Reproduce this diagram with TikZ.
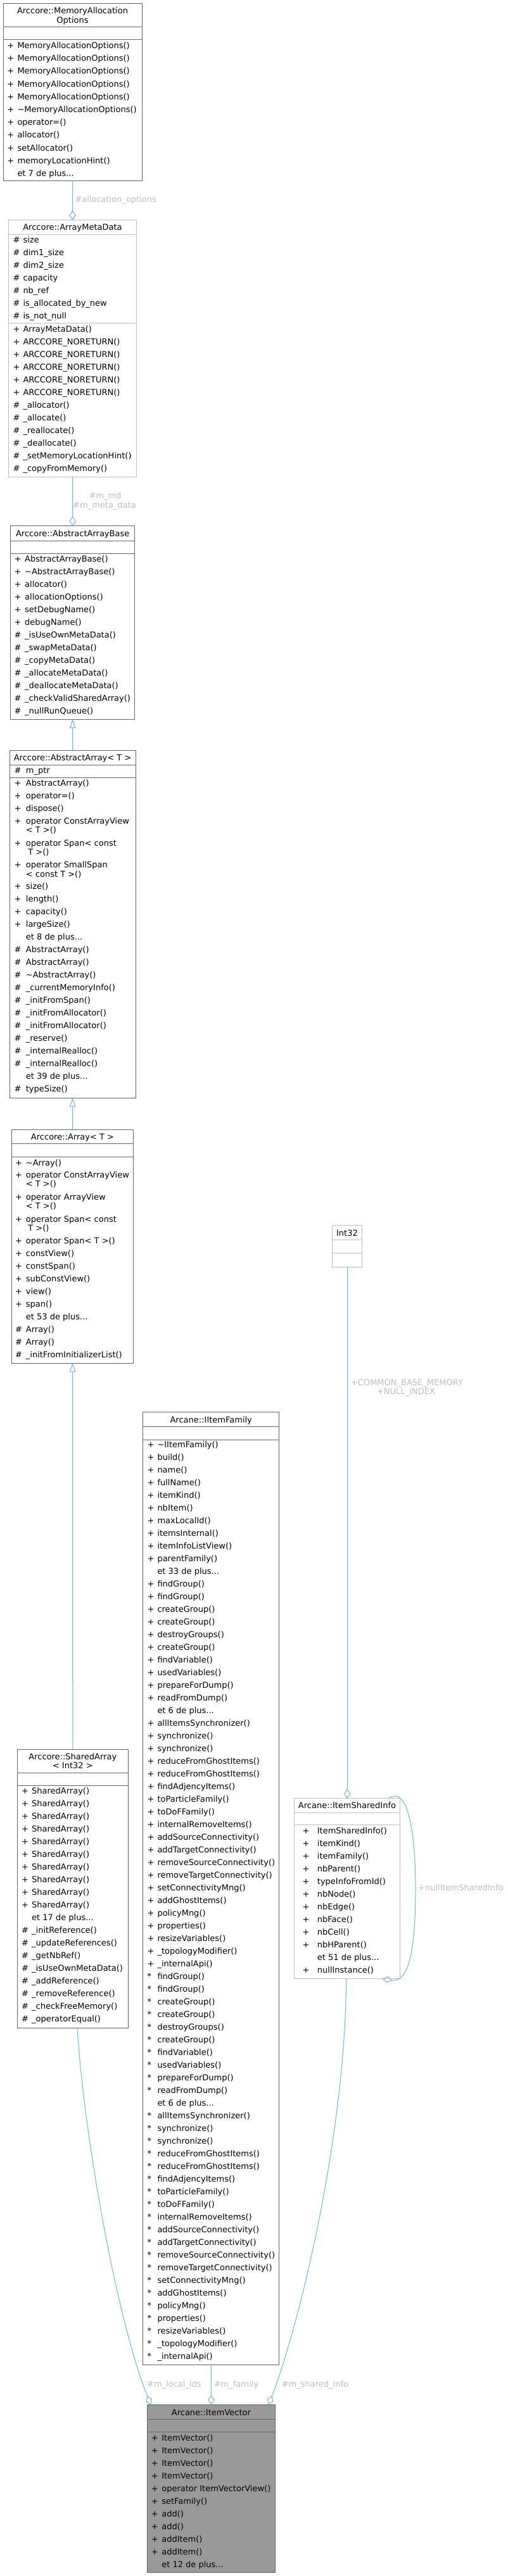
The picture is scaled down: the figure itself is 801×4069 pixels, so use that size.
\documentclass[tikz,border=0pt]{standalone}
\usepackage{fontspec}
\setmainfont{DejaVu Sans}
\usetikzlibrary{arrows.meta}
\definecolor{dgray}{HTML}{666666}
\definecolor{lgray}{HTML}{BFBFBF}
\definecolor{edgec}{HTML}{63B8FF}
\definecolor{lblc}{HTML}{BEBEBE}
\definecolor{focusc}{HTML}{999999}
\newcommand\dxf{\fontsize{13}{15}\selectfont}
% rows: prefix, xsym, xname, ybase, list, spacing
\newcommand\mrows[6]{%
  \foreach \ms/\mt [count=\mi from 0] in {#5} {
    \node[sym] (#1s\mi) at (#2, #4+#6*\mi) {\ms};
    \node[txt] (#1t\mi) at (#3, #4+#6*\mi) {\mt};
  }}
% single row: name, xsym, xname, ybase, sym, text
\newcommand\mrow[6]{\node[sym] (#1s) at (#2,#4) {#5}; \node[txt] (#1t) at (#3,#4) {#6};}
% box: name, style, x1, y1, x2, y2
\newcommand\umlbox[6]{\node[#2, anchor=north west, minimum width={#5-#3}, minimum height={#6-#4}] (#1) at (#3,#4) {};}
% separator: colour, x1, x2, y
\newcommand\sepline[4]{\draw[#1, line width=1pt] (#2,#4) -- (#3,#4);}
\begin{document}
\begin{tikzpicture}[x=1pt,y=-1pt,
  box/.style={draw=dgray, line width=1pt, fill=white, inner sep=0pt, outer sep=0pt},
  lbox/.style={draw=lgray, line width=1pt, fill=white, inner sep=0pt, outer sep=0pt},
  fbox/.style={draw=dgray, line width=1pt, fill=focusc, inner sep=0pt, outer sep=0pt},
  sym/.style={anchor=base west, inner sep=0pt, font=\dxf},
  txt/.style={anchor=base west, inner sep=0pt, font=\dxf},
  ttl/.style={anchor=base, inner sep=0pt, font=\dxf},
  lbl/.style={anchor=base west, inner sep=0pt, font=\dxf, text=lblc},
  clbl/.style={anchor=base, inner sep=0pt, font=\dxf, text=lblc},
  conn/.style={draw=edgec, line width=1pt},
  agg/.style={conn, -{Diamond[open, length=15pt, width=10.5pt]}},
  inh/.style={conn, {Triangle[open, length=14pt, width=9.5pt]}-}
]
\useasboundingbox[fill=white] (0,0) rectangle (801,4069);

% ---------- MemoryAllocationOptions ----------
\umlbox{mao}{box}{5}{5}{224}{285}
\sepline{dgray}{5}{224}{42.7}
\sepline{dgray}{5}{224}{62}
\node[ttl] (maot1) at (114.5,21.4) {Arccore::MemoryAllocation};
\node[ttl] (maot2) at (114.5,36.4) {Options};
\mrows{mao}{11.3}{27.3}{76.5}{+/MemoryAllocationOptions(), +/MemoryAllocationOptions(), +/MemoryAllocationOptions(), +/MemoryAllocationOptions(), +/MemoryAllocationOptions(), +/\textasciitilde MemoryAllocationOptions(), +/operator=(), +/allocator(), +/setAllocator(), +/memoryLocationHint(), {}/et 7 de plus{...}}{20.2}

% ---------- ArrayMetaData ----------
\umlbox{amd}{lbox}{13.7}{347.7}{215.3}{753}
\sepline{lgray}{13.7}{215.3}{370.6}
\sepline{lgray}{13.7}{215.3}{510.3}
\node[ttl] (amdt) at (114.5,363.9) {Arccore::ArrayMetaData};
\mrows{amda}{20.3}{36.3}{383.6}{\#/size, \#/dim1\_size, \#/dim2\_size, \#/capacity, \#/nb\_ref, \#/is\_allocated\_by\_new, \#/is\_not\_null}{20}
\mrows{amdm}{20.3}{36.3}{524}{+/ArrayMetaData(), +/ARCCORE\_NORETURN(), +/ARCCORE\_NORETURN(), +/ARCCORE\_NORETURN(), +/ARCCORE\_NORETURN(), +/ARCCORE\_NORETURN(), \#/\_allocator(), \#/\_allocate(), \#/\_reallocate(), \#/\_deallocate(), \#/\_setMemoryLocationHint(), \#/\_copyFromMemory()}{20}

% ---------- AbstractArrayBase ----------
\umlbox{aab}{box}{16.7}{830.7}{212.7}{1136}
\sepline{dgray}{16.7}{212.7}{854.4}
\sepline{dgray}{16.7}{212.7}{874}
\node[ttl] (aabt) at (114.7,847.7) {Arccore::AbstractArrayBase};
\mrows{aab}{22.3}{39}{887.2}{+/AbstractArrayBase(), +/\textasciitilde AbstractArrayBase(), +/allocator(), +/allocationOptions(), +/setDebugName(), +/debugName(), \#/\_isUseOwnMetaData(), \#/\_swapMetaData(), \#/\_copyMetaData(), \#/\_allocateMetaData(), \#/\_deallocateMetaData(), \#/\_checkValidSharedArray(), \#/\_nullRunQueue()}{20}

% ---------- AbstractArray<T> ----------
\umlbox{aa}{box}{15.3}{1185}{214}{1734.3}
\sepline{dgray}{15.3}{214}{1208.3}
\sepline{dgray}{15.3}{214}{1228.3}
\node[ttl] (aat) at (114.6,1201.4) {Arccore::AbstractArray< T >};
\mrow{aaattr}{22.3}{40.7}{1221.2}{\#}{m\_ptr}
\mrows{aam}{22.3}{40.7}{1241.2}{+/AbstractArray(), +/operator=(), +/dispose()}{20}
\mrow{aac1}{22.3}{40.7}{1301.2}{+}{operator ConstArrayView}
\mrow{aac2}{22.3}{40.7}{1315.5}{}{< T >()}
\mrow{aac3}{22.3}{40.7}{1336.2}{+}{operator Span< const}
\mrow{aac4}{22.3}{40.7}{1350.5}{}{\hspace*{3.4pt}T >()}
\mrow{aac5}{22.3}{40.7}{1370.8}{+}{operator SmallSpan}
\mrow{aac6}{22.3}{40.7}{1385.2}{}{< const T >()}
\mrows{aan}{22.3}{40.7}{1404.8}{+/size(), +/length(), +/capacity(), +/largeSize(), {}/et 8 de plus{...}, \#/AbstractArray(), \#/AbstractArray(), \#/\textasciitilde AbstractArray(), \#/\_currentMemoryInfo(), \#/\_initFromSpan(), \#/\_initFromAllocator(), \#/\_initFromAllocator(), \#/\_reserve(), \#/\_internalRealloc(), \#/\_internalRealloc(), {}/et 39 de plus{...}, \#/typeSize()}{20}

% ---------- Array<T> ----------
\umlbox{arr}{box}{18.3}{1784}{210.7}{2153.3}
\sepline{dgray}{18.3}{210.7}{1806.7}
\sepline{dgray}{18.3}{210.7}{1827.3}
\node[ttl] (arrt) at (114.5,1800.7) {Arccore::Array< T >};
\mrow{arc0}{24}{40.7}{1841.2}{+}{\textasciitilde Array()}
\mrow{arc1}{24}{40.7}{1860.8}{+}{operator ConstArrayView}
\mrow{arc2}{24}{40.7}{1874.8}{}{< T >()}
\mrow{arc3}{24}{40.7}{1895.2}{+}{operator ArrayView}
\mrow{arc4}{24}{40.7}{1909.5}{}{< T >()}
\mrow{arc5}{24}{40.7}{1930.2}{+}{operator Span< const}
\mrow{arc6}{24}{40.7}{1944.5}{}{\hspace*{3.4pt}T >()}
\mrows{arm}{24}{40.7}{1964.8}{+/operator Span< T >(), +/constView(), +/constSpan(), +/subConstView(), +/view(), +/span(), {}/et 53 de plus{...}, \#/Array(), \#/Array(), \#/\_initFromInitializerList()}{20}

% ---------- SharedArray<Int32> ----------
\umlbox{sa}{box}{27.3}{2763.2}{202.3}{3203.2}
\sepline{dgray}{27.3}{202.3}{2800.6}
\sepline{dgray}{27.3}{202.3}{2820.8}
\node[ttl] (sat1) at (114.8,2779.3) {Arccore::SharedArray};
\node[ttl] (sat2) at (114.8,2793.9) {< Int32 >};
\mrows{sa}{34}{50}{2833.4}{+/SharedArray(), +/SharedArray(), +/SharedArray(), +/SharedArray(), +/SharedArray(), +/SharedArray(), +/SharedArray(), +/SharedArray(), +/SharedArray(), +/SharedArray(), {}/et 17 de plus{...}, \#/\_initReference(), \#/\_updateReferences(), \#/\_getNbRef(), \#/\_isUseOwnMetaData(), \#/\_addReference(), \#/\_removeReference(), \#/\_checkFreeMemory(), \#/\_operatorEqual()}{20}

% ---------- IItemFamily ----------
\umlbox{if}{box}{225.9}{2230.5}{440.6}{3735.5}
\sepline{dgray}{225.9}{440.6}{2253.5}
\sepline{dgray}{225.9}{440.6}{2274}
\node[ttl] (ift) at (333.25,2247.2) {Arcane::IItemFamily};
\mrows{ifa}{232.3}{248.3}{2286.7}{+/\textasciitilde IItemFamily(), +/build(), +/name(), +/fullName(), +/itemKind(), +/nbItem(), +/maxLocalId(), +/itemsInternal(), +/itemInfoListView(), +/parentFamily(), {}/et 33 de plus{...}, +/findGroup(), +/findGroup(), +/createGroup(), +/createGroup(), +/destroyGroups(), +/createGroup(), +/findVariable(), +/usedVariables(), +/prepareForDump(), +/readFromDump(), {}/et 6 de plus{...}, +/allItemsSynchronizer(), +/synchronize(), +/synchronize(), +/reduceFromGhostItems(), +/reduceFromGhostItems(), +/findAdjencyItems(), +/toParticleFamily(), +/toDoFFamily(), +/internalRemoveItems(), +/addSourceConnectivity(), +/addTargetConnectivity(), +/removeSourceConnectivity(), +/removeTargetConnectivity(), +/setConnectivityMng(), +/addGhostItems(), +/policyMng(), +/properties(), +/resizeVariables(), +/\_topologyModifier(), +/\_internalApi()}{20}
\mrows{ifb}{232.3}{248.3}{3126.7}{*/findGroup(), */findGroup(), */createGroup(), */createGroup(), */destroyGroups(), */createGroup(), */findVariable(), */usedVariables(), */prepareForDump(), */readFromDump(), {}/et 6 de plus{...}, */allItemsSynchronizer(), */synchronize(), */synchronize(), */reduceFromGhostItems(), */reduceFromGhostItems(), */findAdjencyItems(), */toParticleFamily(), */toDoFFamily(), */internalRemoveItems(), */addSourceConnectivity(), */addTargetConnectivity(), */removeSourceConnectivity(), */removeTargetConnectivity(), */setConnectivityMng(), */addGhostItems(), */policyMng(), */properties(), */resizeVariables(), */\_topologyModifier(), */\_internalApi()}{20}

% ---------- Int32 ----------
\umlbox{int}{lbox}{524.7}{1935.7}{571.3}{2001.4}
\sepline{lgray}{524.7}{571.3}{1958.9}
\sepline{lgray}{524.7}{571.3}{1979.3}
\node[ttl] (intt) at (548,1952.9) {Int32};

% ---------- ItemSharedInfo ----------
\umlbox{isi}{lbox}{464.3}{2840.8}{631.7}{3125.5}
\sepline{lgray}{464.3}{631.7}{2863.3}
\sepline{lgray}{464.3}{631.7}{2882.5}
\node[ttl] (isit) at (548,2856.1) {Arcane::ItemSharedInfo};
\mrows{isi}{477.3}{500.7}{2896}{+/ItemSharedInfo(), +/itemKind(), +/itemFamily(), +/nbParent(), +/typeInfoFromId(), +/nbNode(), +/nbEdge(), +/nbFace(), +/nbCell(), +/nbHParent(), {}/et 51 de plus{...}, +/nullInstance()}{20}

% ---------- ItemVector ----------
\umlbox{iv}{fbox}{232.5}{3798.3}{434.4}{4063.5}
\sepline{dgray}{232.5}{434.4}{3821.8}
\sepline{dgray}{232.5}{434.4}{3841.8}
\node[ttl] (ivt) at (333.45,3815.3) {Arcane::ItemVector};
\mrows{iv}{238.6}{255.1}{3855}{+/ItemVector(), +/ItemVector(), +/ItemVector(), +/ItemVector(), +/operator ItemVectorView(), +/setFamily(), +/add(), +/add(), +/addItem(), +/addItem(), {}/et 12 de plus{...}}{20}

% ---------- connectors ----------
\draw[agg] (mao.south) -- (amd.north);
\node[lbl] (l1) at (118.3,319.7) {\#allocation\_options};
\draw[agg] (amd.south) -- (aab.north);
\node[clbl] (l2a) at (166,787.3) {\#m\_md};
\node[clbl] (l2b) at (165,802.6) {\#m\_meta\_data};
\draw[inh] (aab.south) -- (aa.north);
\draw[inh] (aa.south) -- (arr.north);
\draw[inh] (arr.south) -- (sa.north);
\draw[agg] (int.south) -- (isi.north);
\node[clbl] (l3a) at (642.5,2188.3) {+COMMON\_BASE\_MEMORY};
\node[clbl] (l3b) at (641,2202.6) {+NULL\_INDEX};
\draw[agg] ([xshift=65.3pt]isi.north) .. controls (645,2818) and (656,2900) .. (656,2982)
  .. controls (656,3070) and (648,3133) .. ([xshift=56pt]isi.south);
\node[lbl] (l4) at (660,2986.8) {+nullItemSharedInfo};
\draw[agg] ([xshift=7.1pt]sa.south) .. controls (135,3400) and (190,3680) .. ([xshift=-95.4pt]iv.north);
\draw[agg] (if.south) -- (iv.north);
\draw[agg] ([xshift=-1.3pt]isi.south) .. controls (545,3380) and (470,3680) .. ([xshift=90.5pt]iv.north);
\node[lbl] (l5) at (232,3770.5) {\#m\_local\_ids};
\node[lbl] (l6) at (337.6,3770.5) {\#m\_family};
\node[lbl] (l7) at (444.6,3770.5) {\#m\_shared\_info};
\end{tikzpicture}
\end{document}
